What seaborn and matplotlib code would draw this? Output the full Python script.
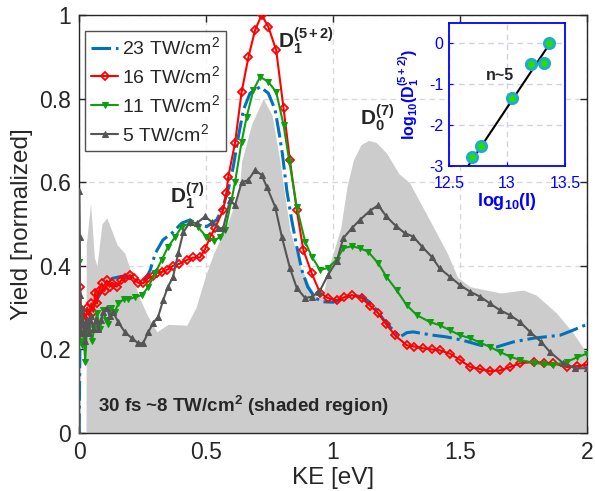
import matplotlib
matplotlib.use('Agg')
import matplotlib.pyplot as plt
from matplotlib.ticker import FormatStrFormatter
import seaborn as sns

# shaded region: 30 fs ~8 TW/cm2
shade_ke = [0.027, 0.028, 0.045, 0.06, 0.07, 0.09, 0.109, 0.15, 0.18, 0.207,
            0.24, 0.27, 0.306, 0.35, 0.424, 0.46, 0.50, 0.53, 0.59, 0.63,
            0.64, 0.68, 0.725, 0.76, 0.79, 0.80, 0.83, 0.87, 0.91, 0.94,
            0.96, 0.99, 1.03, 1.055, 1.08, 1.11, 1.14, 1.17, 1.21, 1.26,
            1.30, 1.38, 1.45, 1.49, 1.54, 1.66, 1.75, 1.80, 1.88, 1.945, 2.0]
shade_yield = [0.0, 0.45, 0.55, 0.42, 0.40, 0.50, 0.515, 0.45, 0.43, 0.38,
               0.32, 0.28, 0.242, 0.26, 0.258, 0.30, 0.38, 0.43, 0.51, 0.58,
               0.65, 0.74, 0.80, 0.76, 0.653, 0.61, 0.486, 0.40, 0.35, 0.32,
               0.33, 0.41, 0.49, 0.59, 0.653, 0.69, 0.70, 0.695, 0.67, 0.62,
               0.60, 0.51, 0.43, 0.373, 0.35, 0.335, 0.342, 0.33, 0.287, 0.24, 0.19]

# 23 TW/cm2
ke_23 = [0.0, 0.003, 0.01, 0.02, 0.03, 0.05, 0.07, 0.1, 0.13, 0.17, 0.2, 0.23,
         0.26, 0.28, 0.30, 0.33, 0.365, 0.404, 0.437, 0.468, 0.503, 0.542, 0.567,
         0.59, 0.607, 0.627, 0.647, 0.673, 0.713, 0.745, 0.772, 0.79, 0.80, 0.818,
         0.837, 0.857, 0.877, 0.90, 0.93, 0.96, 1.0, 1.04, 1.074, 1.113, 1.14,
         1.172, 1.2, 1.224, 1.264, 1.29, 1.315, 1.394, 1.447, 1.51, 1.58, 1.645,
         1.71, 1.79, 1.894, 1.945, 2.0]
y_23 = [0.0, 0.20, 0.22, 0.25, 0.27, 0.30, 0.32, 0.35, 0.37, 0.375, 0.37, 0.365,
        0.366, 0.39, 0.43, 0.462, 0.478, 0.502, 0.51, 0.498, 0.494, 0.51, 0.541,
        0.59, 0.637, 0.709, 0.773, 0.813, 0.828, 0.813, 0.773, 0.709, 0.67, 0.58,
        0.51, 0.446, 0.39, 0.35, 0.323, 0.314, 0.313, 0.322, 0.33, 0.326, 0.315,
        0.294, 0.27, 0.254, 0.23, 0.24, 0.242, 0.234, 0.23, 0.222, 0.21, 0.206,
        0.218, 0.227, 0.234, 0.246, 0.26]

# 16 TW/cm2
ke_16 = [0.0, 0.004, 0.01, 0.018, 0.025, 0.032, 0.04, 0.048, 0.056, 0.063, 0.07,
         0.078, 0.089, 0.1, 0.109, 0.12, 0.13, 0.148, 0.165, 0.18, 0.2, 0.215,
         0.23, 0.252, 0.27, 0.29, 0.306, 0.325, 0.345, 0.37, 0.395, 0.424, 0.45,
         0.476, 0.496, 0.516, 0.535, 0.567, 0.58, 0.587, 0.614, 0.64, 0.667,
         0.693, 0.719, 0.745, 0.776, 0.805, 0.83, 0.857, 0.883, 0.916, 0.949,
         0.98, 1.015, 1.045, 1.074, 1.113, 1.145, 1.178, 1.21, 1.244, 1.29, 1.32,
         1.354, 1.39, 1.42, 1.46, 1.50, 1.54, 1.58, 1.618, 1.657, 1.697, 1.736,
         1.79, 1.83, 1.866, 1.92, 1.96, 2.0]
y_16 = [0.22, 0.35, 0.25, 0.29, 0.27, 0.30, 0.28, 0.31, 0.29, 0.335, 0.31,
        0.34, 0.358, 0.34, 0.365, 0.35, 0.36, 0.35, 0.365, 0.37, 0.378, 0.37,
        0.36, 0.358, 0.37, 0.375, 0.383, 0.385, 0.39, 0.40, 0.405, 0.414, 0.42,
        0.42, 0.44, 0.469, 0.49, 0.533, 0.574, 0.612, 0.694, 0.816, 0.90,
        0.964, 1.0, 0.972, 0.916, 0.777, 0.653, 0.533, 0.438, 0.382, 0.335,
        0.323, 0.318, 0.325, 0.33, 0.323, 0.305, 0.287, 0.26, 0.234, 0.21, 0.207,
        0.203, 0.20, 0.198, 0.19, 0.175, 0.158, 0.153, 0.148, 0.15, 0.158, 0.167,
        0.17, 0.168, 0.167, 0.158, 0.16, 0.163]

# 11 TW/cm2
ke_11 = [0.0, 0.003, 0.01, 0.018, 0.024, 0.03, 0.04, 0.05, 0.06, 0.07, 0.083,
         0.095, 0.105, 0.115, 0.125, 0.14, 0.155, 0.175, 0.194, 0.22, 0.247,
         0.273, 0.30, 0.325, 0.35, 0.378, 0.404, 0.437, 0.468, 0.50, 0.53, 0.555,
         0.575, 0.60, 0.614, 0.64, 0.66, 0.686, 0.713, 0.745, 0.776, 0.805, 0.828,
         0.857, 0.89, 0.916, 0.949, 0.98, 1.015, 1.04, 1.074, 1.106, 1.138, 1.178,
         1.21, 1.25, 1.29, 1.33, 1.38, 1.42, 1.46, 1.50, 1.54, 1.58, 1.618, 1.657,
         1.697, 1.736, 1.79, 1.83, 1.866, 1.92, 1.96, 2.0]
y_11 = [0.41, 0.24, 0.21, 0.23, 0.17, 0.24, 0.26, 0.22, 0.25, 0.287, 0.25,
        0.294, 0.27, 0.26, 0.30, 0.29, 0.31, 0.32, 0.32, 0.325, 0.33,
        0.35, 0.383, 0.414, 0.445, 0.469, 0.494, 0.502, 0.493, 0.47, 0.46, 0.469,
        0.486, 0.557, 0.60, 0.697, 0.757, 0.82, 0.852, 0.84, 0.816, 0.737, 0.649,
        0.541, 0.458, 0.422, 0.39, 0.395, 0.415, 0.442, 0.447, 0.442, 0.434, 0.406,
        0.374, 0.342, 0.306, 0.282, 0.266, 0.258, 0.246, 0.234, 0.227, 0.216, 0.206, 0.194,
        0.183, 0.175, 0.168, 0.165, 0.163, 0.17, 0.181, 0.19]

# 5 TW/cm2
ke_5 = [0.0, 0.0, 0.002, 0.004, 0.008, 0.012, 0.018, 0.024, 0.03, 0.038, 0.045,
        0.055, 0.065, 0.075, 0.085, 0.095, 0.109, 0.12, 0.134, 0.154, 0.18,
        0.207, 0.232, 0.252, 0.273, 0.291, 0.311, 0.331, 0.35, 0.37, 0.39, 0.41,
        0.437, 0.463, 0.496, 0.522, 0.547, 0.567, 0.594, 0.614, 0.64, 0.666,
        0.693, 0.719, 0.739, 0.772, 0.798, 0.83, 0.857, 0.89, 0.916, 0.946, 0.98,
        1.015, 1.04, 1.074, 1.106, 1.146, 1.178, 1.21, 1.248, 1.283, 1.316, 1.35,
        1.388, 1.42, 1.46, 1.50, 1.54, 1.58, 1.618, 1.657, 1.697, 1.736, 1.776,
        1.82, 1.854, 1.907, 1.953, 2.0]
y_5 = [0.0, 0.58, 0.47, 0.33, 0.24, 0.30, 0.26, 0.22, 0.27, 0.24, 0.28,
       0.25, 0.27, 0.25, 0.27, 0.29, 0.30, 0.28, 0.29, 0.265, 0.242,
       0.227, 0.215, 0.215, 0.242, 0.263, 0.278, 0.318, 0.35, 0.374, 0.43, 0.48,
       0.505, 0.502, 0.518, 0.505, 0.49, 0.49, 0.557, 0.545, 0.60, 0.605,
       0.629, 0.617, 0.589, 0.541, 0.47, 0.395, 0.347, 0.323, 0.326, 0.338, 0.378,
       0.412, 0.466, 0.49, 0.51, 0.532, 0.545, 0.518, 0.495, 0.478, 0.47, 0.446,
       0.422, 0.394, 0.374, 0.354, 0.338, 0.326, 0.31, 0.294, 0.282, 0.266, 0.242,
       0.218, 0.194, 0.167, 0.155, 0.155]

# inset: log10 intensity vs log10 D1(5+2) yield
log_int = [12.696, 12.776, 13.046, 13.207, 13.32, 13.365]
log_d1 = [-2.79, -2.5, -1.33, -0.5, -0.48, 0.0]
fit_x = [12.665, 13.37]
fit_y = [-3.0, 0.0]

sns.set_style("ticks")
plt.rcParams['font.family'] = ['Liberation Sans', 'DejaVu Sans']
plt.rcParams['mathtext.fontset'] = 'custom'
plt.rcParams['mathtext.rm'] = 'Liberation Sans'
plt.rcParams['mathtext.it'] = 'Liberation Sans:italic'
plt.rcParams['mathtext.bf'] = 'Liberation Sans:bold'

fig = plt.figure(figsize=(5.95, 4.91), dpi=100)
ax = fig.add_axes([0.133, 0.118, 0.8535, 0.8515])

ax.fill_between(shade_ke, shade_yield, color='#cccccc', lw=0, zorder=1)

sns.lineplot(x=ke_23, y=y_23, ax=ax, color='#0072BD', lw=2.2, linestyle='-.',
             sort=False, estimator=None, label='23 TW/cm$^2$', zorder=3)
sns.lineplot(x=ke_16, y=y_16, ax=ax, color='#ff0000', lw=1.5, marker='D',
             markersize=4, mfc='none', mec='#ff0000', mew=1.3,
             sort=False, estimator=None, label='16 TW/cm$^2$', zorder=4)
sns.lineplot(x=ke_11, y=y_11, ax=ax, color='#0f9e0f', lw=1.5, marker='v',
             markersize=5, mfc='#0f9e0f', mec='#0f9e0f',
             sort=False, estimator=None, label='11 TW/cm$^2$', zorder=4)
sns.lineplot(x=ke_5, y=y_5, ax=ax, color='#555555', lw=1.5, marker='^',
             markersize=5, mfc='#555555', mec='#555555',
             sort=False, estimator=None, label='5 TW/cm$^2$', zorder=4)

ax.set_xlim(0, 2)
ax.set_ylim(0, 1)
ax.set_xticks([0, 0.5, 1, 1.5, 2])
ax.set_yticks([0, 0.2, 0.4, 0.6, 0.8, 1])
ax.xaxis.set_major_formatter(FormatStrFormatter('%g'))
ax.yaxis.set_major_formatter(FormatStrFormatter('%g'))
ax.tick_params(direction='in', length=5, width=1, labelsize=16.5, colors='#262626',
               top=True, right=True, pad=6)
ax.grid(True, linestyle=(0, (4, 3)), color='#d9d9d9', lw=1)
ax.set_axisbelow(True)
for sp in ax.spines.values():
    sp.set_color('#262626')
    sp.set_linewidth(1)
ax.set_xlabel('KE [eV]', fontsize=17.5, color='#262626', labelpad=2)
ax.set_ylabel('Yield [normalized]', fontsize=17.5, color='#262626', labelpad=4)

leg = ax.legend(loc='upper left', bbox_to_anchor=(0.012, 0.962), borderaxespad=0,
                fontsize=14, handlelength=1.4, handletextpad=0.2, labelspacing=0.35,
                frameon=True, fancybox=False, edgecolor='#262626', borderpad=0.3)
leg.get_frame().set_linewidth(1)

ax.text(0.358, 0.55, r'$\mathbf{D_1^{(7)}}$', fontsize=15, ha='left', va='baseline')
ax.text(0.783, 0.921, r'$\mathbf{D_1^{(5+2)}}$', fontsize=15, ha='left', va='baseline')
ax.text(1.105, 0.737, r'$\mathbf{D_0^{(7)}}$', fontsize=15, ha='left', va='baseline')
ax.text(0.074, 0.051, r'30 fs ~8 TW/cm$^\mathbf{2}$ (shaded region)', fontsize=13.5,
        fontweight='bold', ha='left', va='baseline')

# inset
ins = fig.add_axes([0.7546, 0.6619, 0.195, 0.2913])
ins.set_facecolor('white')
sns.lineplot(x=fit_x, y=fit_y, ax=ins, color='black', lw=1.5, sort=False,
             estimator=None, zorder=2)
sns.scatterplot(x=log_int, y=log_d1, ax=ins, color='#22e000', edgecolor='#1fa8d8',
                linewidth=2, s=55, zorder=3)
ins.set_xlim(12.5, 13.5)
ins.set_ylim(-3, 0.5)
ins.set_xticks([12.5, 13, 13.5])
ins.set_yticks([-3, -2, -1, 0])
ins.xaxis.set_major_formatter(FormatStrFormatter('%g'))
ins.yaxis.set_major_formatter(FormatStrFormatter('%g'))
ins.tick_params(direction='in', length=3, labelsize=11.5, colors='#0000ff', pad=4)
ins.tick_params(axis='x', pad=7)
ins.grid(True, linestyle=(0, (4, 3)), color='#d0d0e8', lw=1)
ins.set_axisbelow(True)
for sp in ins.spines.values():
    sp.set_color('#0000ff')
    sp.set_linewidth(1.3)
ins.set_xlabel(r'$\mathbf{log_{10}(I)}$', fontsize=13, color='#0000ff', labelpad=0)
ins.set_ylabel(r'$\mathbf{log_{10}(D_1^{(5+2)})}$', fontsize=11.5, color='#0000ff')
ins.yaxis.set_label_coords(-0.24, 0.5)
ins.text(12.94, -0.78, 'n~5', fontsize=11.5, fontweight='bold', ha='center', va='center')

fig.savefig('out.png', dpi=100)
